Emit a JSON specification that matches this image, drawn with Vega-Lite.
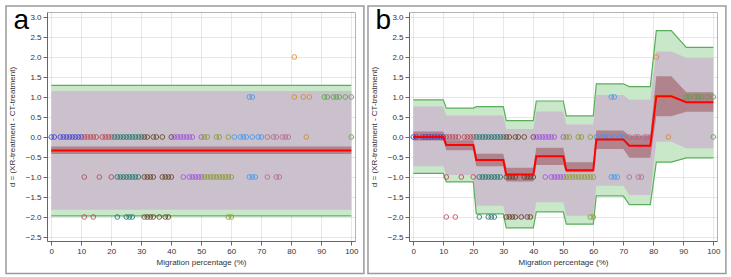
{
  "$schema": "https://vega.github.io/schema/vega-lite/v6.json",
  "background": "white",
  "padding": {"left": 4, "top": 4, "right": 0, "bottom": 0},
  "spacing": 0,
  "config": {
    "font": "Liberation Sans",
    "view": {"stroke": "#b4b4b4", "strokeWidth": 1},
    "axis": {"labelFontSize": 8, "titleFontSize": 8, "titleFontWeight": "normal", "labelColor": "#333", "titleColor": "#333", "domainColor": "#666", "tickColor": "#666", "tickSize": 4, "labelPadding": 2, "gridColor": "#000", "gridOpacity": 0.09, "zindex": 1, "labelOverlap": false, "labelFlush": false, "labelBound": false, "tickCount": 30}
  },
  "datasets": {
    "pts": [
      {"x":0,"d":0,"g":1},{"x":1,"d":0,"g":1},{"x":3,"d":0,"g":1},{"x":4,"d":0,"g":1},{"x":5,"d":0,"g":1},{"x":6,"d":0,"g":1},{"x":7,"d":0,"g":1},{"x":8,"d":0,"g":1},{"x":9,"d":0,"g":1},{"x":10,"d":0,"g":1},
      {"x":11,"d":0,"g":2},{"x":12,"d":0,"g":2},{"x":13,"d":0,"g":2},{"x":14,"d":0,"g":2},{"x":15,"d":0,"g":2},{"x":17,"d":0,"g":2},{"x":18,"d":0,"g":2},{"x":19,"d":0,"g":2},{"x":20,"d":0,"g":2},
      {"x":21,"d":0,"g":3},{"x":22,"d":0,"g":3},{"x":23,"d":0,"g":3},{"x":24,"d":0,"g":3},{"x":25,"d":0,"g":3},{"x":26,"d":0,"g":3},{"x":27,"d":0,"g":3},{"x":28,"d":0,"g":3},{"x":29,"d":0,"g":3},{"x":30,"d":0,"g":3},
      {"x":31,"d":0,"g":4},{"x":32,"d":0,"g":4},{"x":34,"d":0,"g":4},{"x":35,"d":0,"g":4},{"x":37,"d":0,"g":4},{"x":40,"d":0,"g":4},
      {"x":41,"d":0,"g":5},{"x":42,"d":0,"g":5},{"x":43,"d":0,"g":5},{"x":44,"d":0,"g":5},{"x":45,"d":0,"g":5},{"x":46,"d":0,"g":5},{"x":47,"d":0,"g":5},{"x":50,"d":0,"g":5},
      {"x":51,"d":0,"g":6},{"x":52,"d":0,"g":6},{"x":55,"d":0,"g":6},{"x":56,"d":0,"g":6},{"x":59,"d":0,"g":6},
      {"x":61,"d":0,"g":7},{"x":63,"d":0,"g":7},{"x":64,"d":0,"g":7},{"x":65,"d":0,"g":7},{"x":67,"d":0,"g":7},{"x":69,"d":0,"g":7},{"x":70,"d":0,"g":7},
      {"x":72,"d":0,"g":8},{"x":74,"d":0,"g":8},{"x":75,"d":0,"g":8},{"x":77,"d":0,"g":8},{"x":78,"d":0,"g":8},{"x":79,"d":0,"g":8},
      {"x":85,"d":0,"g":9},
      {"x":100,"d":0,"g":10},
      {"x":11,"d":-1,"g":2},{"x":16,"d":-1,"g":2},{"x":20,"d":-1,"g":2},
      {"x":22,"d":-1,"g":3},{"x":23,"d":-1,"g":3},{"x":24,"d":-1,"g":3},{"x":25,"d":-1,"g":3},{"x":26,"d":-1,"g":3},{"x":27,"d":-1,"g":3},{"x":28,"d":-1,"g":3},{"x":29,"d":-1,"g":3},
      {"x":31,"d":-1,"g":4},{"x":32,"d":-1,"g":4},{"x":33,"d":-1,"g":4},{"x":34,"d":-1,"g":4},{"x":37,"d":-1,"g":4},{"x":38,"d":-1,"g":4},{"x":39,"d":-1,"g":4},{"x":40,"d":-1,"g":4},
      {"x":44,"d":-1,"g":5},{"x":46,"d":-1,"g":5},{"x":47,"d":-1,"g":5},{"x":48,"d":-1,"g":5},{"x":49,"d":-1,"g":5},{"x":50,"d":-1,"g":5},
      {"x":51,"d":-1,"g":6},{"x":52,"d":-1,"g":6},{"x":53,"d":-1,"g":6},{"x":54,"d":-1,"g":6},{"x":55,"d":-1,"g":6},{"x":56,"d":-1,"g":6},{"x":57,"d":-1,"g":6},{"x":58,"d":-1,"g":6},{"x":59,"d":-1,"g":6},{"x":60,"d":-1,"g":6},
      {"x":66,"d":-1,"g":7},{"x":67,"d":-1,"g":7},{"x":68,"d":-1,"g":7},
      {"x":72,"d":-1,"g":8},{"x":75,"d":-1,"g":8},{"x":76,"d":-1,"g":8},
      {"x":11,"d":-2,"g":2},{"x":14,"d":-2,"g":2},
      {"x":22,"d":-2,"g":3},{"x":25,"d":-2,"g":3},{"x":26,"d":-2,"g":3},{"x":27,"d":-2,"g":3},
      {"x":31,"d":-2,"g":4},{"x":32,"d":-2,"g":4},{"x":33,"d":-2,"g":4},{"x":34,"d":-2,"g":4},{"x":36,"d":-2,"g":4},{"x":38,"d":-2,"g":4},{"x":39,"d":-2,"g":4},
      {"x":59,"d":-2,"g":6},{"x":60,"d":-2,"g":6},
      {"x":66,"d":1,"g":7},{"x":67,"d":1,"g":7},
      {"x":81,"d":1,"g":9},{"x":84,"d":1,"g":9},{"x":86,"d":1,"g":9},
      {"x":91,"d":1,"g":10},{"x":92,"d":1,"g":10},{"x":94,"d":1,"g":10},{"x":95,"d":1,"g":10},{"x":96,"d":1,"g":10},{"x":98,"d":1,"g":10},{"x":100,"d":1,"g":10},
      {"x":81,"d":2,"g":9}
    ],
    "bandA": [
      {"x":0,"glo":-1.97,"ghi":1.29,"mlo":-1.82,"mhi":1.15,"clo":-0.425,"chi":-0.235,"m":-0.335},
      {"x":100,"glo":-1.97,"ghi":1.29,"mlo":-1.82,"mhi":1.15,"clo":-0.425,"chi":-0.235,"m":-0.335}
    ],
    "bandB": [
      {"x":0,"glo":-0.91,"ghi":0.93,"mlo":-0.73,"mhi":0.76,"clo":-0.09,"chi":0.14,"m":0.0},
      {"x":10,"glo":-0.91,"ghi":0.93,"mlo":-0.73,"mhi":0.76,"clo":-0.09,"chi":0.14,"m":0.0},
      {"x":11,"glo":-1.12,"ghi":0.72,"mlo":-0.95,"mhi":0.54,"clo":-0.33,"chi":-0.08,"m":-0.2},
      {"x":20,"glo":-1.12,"ghi":0.72,"mlo":-0.95,"mhi":0.54,"clo":-0.33,"chi":-0.08,"m":-0.2},
      {"x":21,"glo":-1.92,"ghi":0.76,"mlo":-1.72,"mhi":0.54,"clo":-0.73,"chi":-0.42,"m":-0.575},
      {"x":30,"glo":-1.92,"ghi":0.76,"mlo":-1.72,"mhi":0.54,"clo":-0.73,"chi":-0.42,"m":-0.575},
      {"x":31,"glo":-2.27,"ghi":0.41,"mlo":-2.05,"mhi":0.2,"clo":-1.11,"chi":-0.77,"m":-0.94},
      {"x":40,"glo":-2.27,"ghi":0.41,"mlo":-2.05,"mhi":0.2,"clo":-1.11,"chi":-0.77,"m":-0.94},
      {"x":41,"glo":-1.87,"ghi":0.9,"mlo":-1.63,"mhi":0.64,"clo":-0.7,"chi":-0.27,"m":-0.48},
      {"x":50,"glo":-1.87,"ghi":0.9,"mlo":-1.63,"mhi":0.64,"clo":-0.7,"chi":-0.27,"m":-0.48},
      {"x":51,"glo":-2.18,"ghi":0.53,"mlo":-1.97,"mhi":0.31,"clo":-0.88,"chi":-0.63,"m":-0.83},
      {"x":60,"glo":-2.18,"ghi":0.53,"mlo":-1.97,"mhi":0.31,"clo":-0.88,"chi":-0.63,"m":-0.83},
      {"x":61,"glo":-1.47,"ghi":1.33,"mlo":-1.22,"mhi":1.05,"clo":-0.3,"chi":0.16,"m":-0.06},
      {"x":70,"glo":-1.47,"ghi":1.33,"mlo":-1.22,"mhi":1.05,"clo":-0.3,"chi":0.16,"m":-0.06},
      {"x":72,"glo":-1.69,"ghi":1.26,"mlo":-1.45,"mhi":0.93,"clo":-0.52,"chi":0.03,"m":-0.22},
      {"x":79,"glo":-1.69,"ghi":1.26,"mlo":-1.45,"mhi":0.93,"clo":-0.52,"chi":0.03,"m":-0.22},
      {"x":81,"glo":-0.63,"ghi":2.66,"mlo":-0.12,"mhi":2.14,"clo":0.52,"chi":1.52,"m":1.02},
      {"x":86,"glo":-0.63,"ghi":2.66,"mlo":-0.12,"mhi":2.14,"clo":0.52,"chi":1.52,"m":1.02},
      {"x":91,"glo":-0.52,"ghi":2.24,"mlo":-0.28,"mhi":1.98,"clo":0.63,"chi":1.12,"m":0.87},
      {"x":100,"glo":-0.52,"ghi":2.24,"mlo":-0.28,"mhi":1.98,"clo":0.63,"chi":1.12,"m":0.87}
    ]
  },
  "hconcat": [
    {
      "width": 308, "height": 229,
      "layer": [
        {"data": {"name": "bandA"}, "mark": {"type": "area", "color": "#c9e7c9", "opacity": 1},
         "encoding": {
           "x": {"field": "x", "type": "quantitative", "scale": {"domain": [-1.43, 101.23], "nice": false, "zero": false}, "axis": {"values": [0,10,20,30,40,50,60,70,80,90,100], "tickCount": 30, "labelOverlap": false, "title": "Migration percentage (%)", "titlePadding": 3, "grid": true}},
           "y": {"field": "glo", "type": "quantitative", "scale": {"domain": [-2.6, 3.125], "nice": false, "zero": false}, "axis": {"values": [-2.5,-2,-1.5,-1,-0.5,0,0.5,1,1.5,2,2.5,3], "tickCount": 30, "labelOverlap": false, "format": ".1f", "title": "d = (XR-treatment - CT-treatment)", "titlePadding": 9, "grid": true}},
           "y2": {"field": "ghi"}}},
        {"data": {"name": "bandA"}, "mark": {"type": "area", "color": "#cbc1cc", "opacity": 1},
         "encoding": {"x": {"field": "x", "type": "quantitative"}, "y": {"field": "mlo", "type": "quantitative"}, "y2": {"field": "mhi"}}},
        {"data": {"name": "bandA"}, "mark": {"type": "area", "color": "#b0838d", "opacity": 1},
         "encoding": {"x": {"field": "x", "type": "quantitative"}, "y": {"field": "clo", "type": "quantitative"}, "y2": {"field": "chi"}}},
        {"data": {"name": "bandA"}, "mark": {"type": "line", "color": "#5aae5a", "strokeWidth": 1.2},
         "encoding": {"x": {"field": "x", "type": "quantitative"}, "y": {"field": "glo", "type": "quantitative"}}},
        {"data": {"name": "bandA"}, "mark": {"type": "line", "color": "#5aae5a", "strokeWidth": 1.2},
         "encoding": {"x": {"field": "x", "type": "quantitative"}, "y": {"field": "ghi", "type": "quantitative"}}},
        {"data": {"name": "pts"}, "mark": {"type": "point", "shape": "circle", "filled": false, "size": 22, "strokeWidth": 1, "opacity": 0.8},
         "encoding": {"x": {"field": "x", "type": "quantitative"}, "y": {"field": "d", "type": "quantitative"},
           "color": {"field": "g", "type": "nominal", "scale": {"domain": [1,2,3,4,5,6,7,8,9,10], "range": ["#3a3acf","#b8404e","#1b6f66","#5e3d1c","#9d4ddb","#8a972c","#3a98ee","#b5688a","#d48a20","#4fa83a"]}, "legend": null}}},
        {"data": {"name": "bandA"}, "mark": {"type": "line", "color": "#ff0000", "strokeWidth": 2},
         "encoding": {"x": {"field": "x", "type": "quantitative"}, "y": {"field": "m", "type": "quantitative"}}},
        {"data": {"values": [{"label": "a"}]}, "mark": {"type": "text", "fontSize": 28, "align": "left", "baseline": "alphabetic", "color": "#000", "clip": false},
         "encoding": {"x": {"datum": -12.6, "type": "quantitative"}, "y": {"datum": 2.7, "type": "quantitative"}, "text": {"field": "label"}}},
        {"data": {"values": [{}]}, "mark": {"type": "rect", "filled": false, "stroke": "#9a9a9a", "strokeWidth": 1.5, "clip": false},
         "encoding": {"x": {"datum": -15.1, "type": "quantitative"}, "x2": {"datum": 104.2}, "y": {"datum": 3.275, "type": "quantitative"}, "y2": {"datum": -3.41}}}
      ]
    },
    {
      "width": 308, "height": 229,
      "layer": [
        {"data": {"name": "bandB"}, "mark": {"type": "area", "color": "#c9e7c9", "opacity": 1},
         "encoding": {
           "x": {"field": "x", "type": "quantitative", "scale": {"domain": [-1.43, 101.23], "nice": false, "zero": false}, "axis": {"values": [0,10,20,30,40,50,60,70,80,90,100], "tickCount": 30, "labelOverlap": false, "title": "Migration percentage (%)", "titlePadding": 3, "grid": true}},
           "y": {"field": "glo", "type": "quantitative", "scale": {"domain": [-2.6, 3.125], "nice": false, "zero": false}, "axis": {"values": [-2.5,-2,-1.5,-1,-0.5,0,0.5,1,1.5,2,2.5,3], "tickCount": 30, "labelOverlap": false, "format": ".1f", "title": "d = (XR-treatment - CT-treatment)", "titlePadding": 9, "grid": true}},
           "y2": {"field": "ghi"}}},
        {"data": {"name": "bandB"}, "mark": {"type": "area", "color": "#cbc1cc", "opacity": 1},
         "encoding": {"x": {"field": "x", "type": "quantitative"}, "y": {"field": "mlo", "type": "quantitative"}, "y2": {"field": "mhi"}}},
        {"data": {"name": "bandB"}, "mark": {"type": "area", "color": "#b0838d", "opacity": 1},
         "encoding": {"x": {"field": "x", "type": "quantitative"}, "y": {"field": "clo", "type": "quantitative"}, "y2": {"field": "chi"}}},
        {"data": {"name": "bandB"}, "mark": {"type": "line", "color": "#5aae5a", "strokeWidth": 1.2},
         "encoding": {"x": {"field": "x", "type": "quantitative"}, "y": {"field": "glo", "type": "quantitative"}}},
        {"data": {"name": "bandB"}, "mark": {"type": "line", "color": "#5aae5a", "strokeWidth": 1.2},
         "encoding": {"x": {"field": "x", "type": "quantitative"}, "y": {"field": "ghi", "type": "quantitative"}}},
        {"data": {"name": "pts"}, "mark": {"type": "point", "shape": "circle", "filled": false, "size": 22, "strokeWidth": 1, "opacity": 0.8},
         "encoding": {"x": {"field": "x", "type": "quantitative"}, "y": {"field": "d", "type": "quantitative"},
           "color": {"field": "g", "type": "nominal", "scale": {"domain": [1,2,3,4,5,6,7,8,9,10], "range": ["#3a3acf","#b8404e","#1b6f66","#5e3d1c","#9d4ddb","#8a972c","#3a98ee","#b5688a","#d48a20","#4fa83a"]}, "legend": null}}},
        {"data": {"name": "bandB"}, "mark": {"type": "line", "color": "#ff0000", "strokeWidth": 2},
         "encoding": {"x": {"field": "x", "type": "quantitative"}, "y": {"field": "m", "type": "quantitative"}}},
        {"data": {"values": [{"label": "b"}]}, "mark": {"type": "text", "fontSize": 28, "align": "left", "baseline": "alphabetic", "color": "#000", "clip": false},
         "encoding": {"x": {"datum": -12.6, "type": "quantitative"}, "y": {"datum": 2.7, "type": "quantitative"}, "text": {"field": "label"}}},
        {"data": {"values": [{}]}, "mark": {"type": "rect", "filled": false, "stroke": "#9a9a9a", "strokeWidth": 1.5, "clip": false},
         "encoding": {"x": {"datum": -15.1, "type": "quantitative"}, "x2": {"datum": 104.2}, "y": {"datum": 3.275, "type": "quantitative"}, "y2": {"datum": -3.41}}}
      ]
    }
  ]
}
